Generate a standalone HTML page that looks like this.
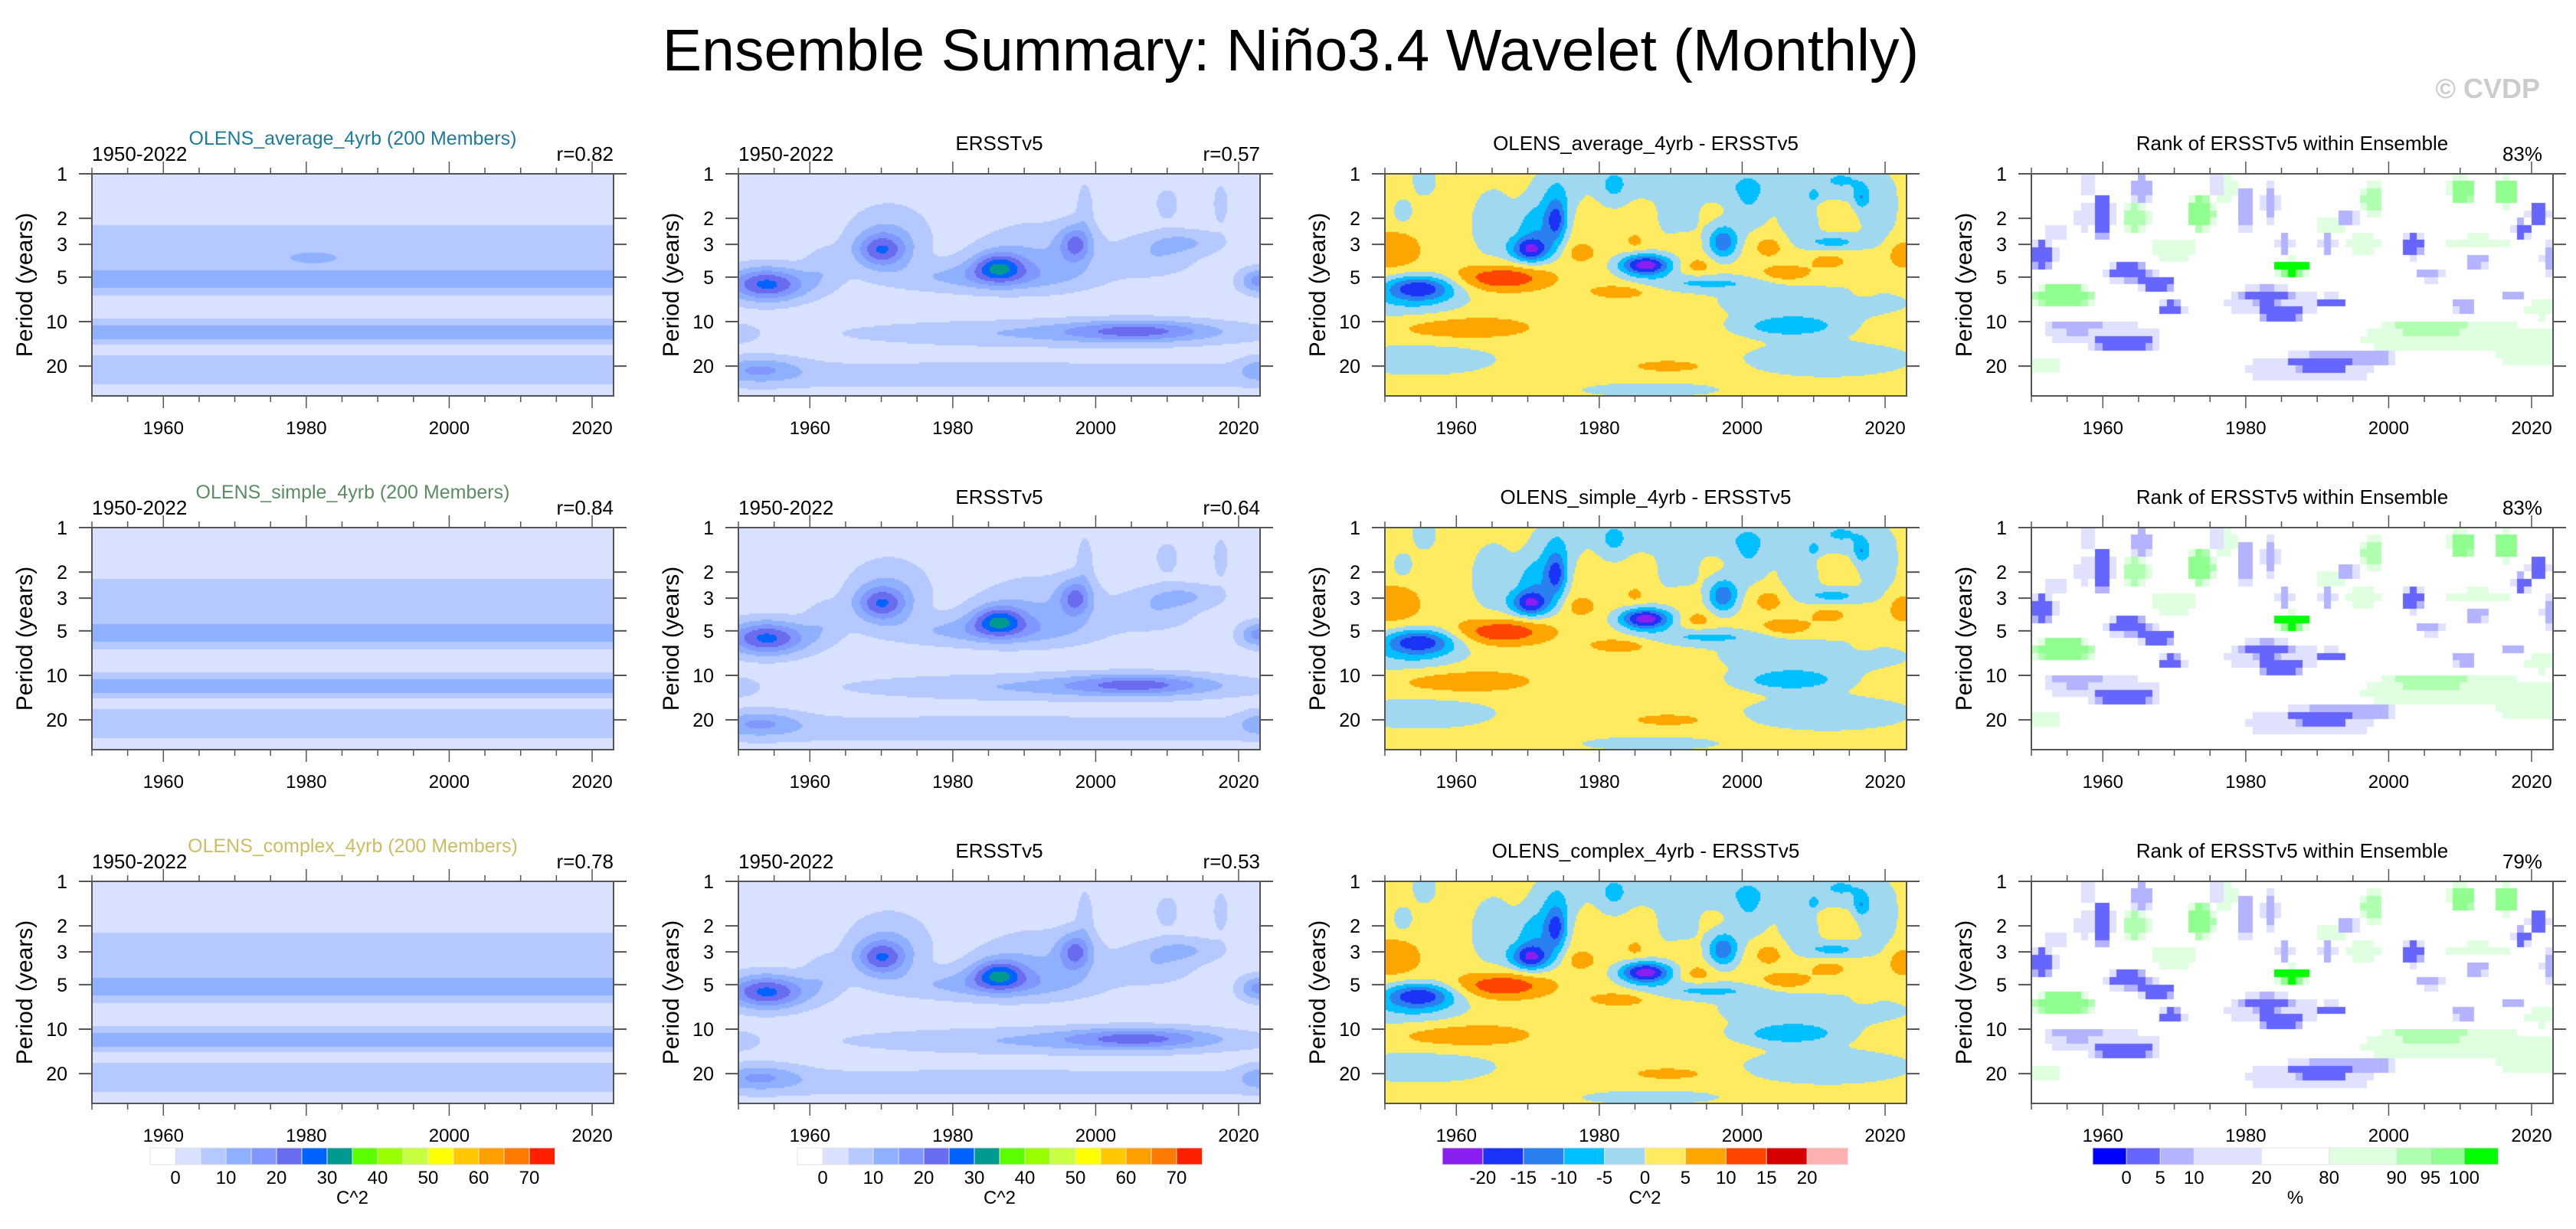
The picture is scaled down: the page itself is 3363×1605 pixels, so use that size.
<!DOCTYPE html>
<html><head><meta charset="utf-8">
<style>
html,body{margin:0;padding:0;background:#fff;}
#wrap{position:relative;width:3363px;height:1605px;overflow:hidden;background:#fff;font-family:"Liberation Sans",sans-serif;}
canvas{position:absolute;}
svg{position:absolute;left:0;top:0;}
</style></head>
<body>
<div id="wrap">
<svg id="ov" width="3363" height="1605"></svg>
</div>
<script>
// ---------------- data ----------------
const rowNames = ["OLENS_average_4yrb","OLENS_simple_4yrb","OLENS_complex_4yrb"];
const rowColors = ["#1b7b9c","#5b8c62","#cbbd63"];
const meanR = ["r=0.82","r=0.84","r=0.78"];
const obsR = ["r=0.57","r=0.64","r=0.53"];
const rankPct = ["83%","83%","79%"];
const xTickYears = [1960,1980,2000,2020];
const yTickPeriods = [1,2,3,5,10,20];
// ensemble-mean band edges (period, years) and levels between them
const meanEdges = [2.25,4.5,5.94,6.7,9.6,10.7,13.3,14.4,17.0,26.9];
const meanLevelsAvg = [1,2,3,2,1,2,3,2,1,2,1];
const meanLevelsSimple = [1,2,3,2,1,2,3,2,1,2,1];
const meanLevelsComplex = [1,2,3,2,1,2,3,2,1,2,1];
// observed wavelet power blobs: [year, period, amplitude, sigmaYear, sigmaLog10Period]
const obsBase = 2.5;
const obsBlobs = [
 [1954,5.6,24,4,0.08],[1970,3.3,18,2.5,0.08],[1971,2.6,7,4,0.15],
 [1986.4,4.24,20,2.5,0.07],[1985,5,10,9,0.07],[1997.2,3.0,16,1.6,0.09],
 [2012,2.9,8,4,0.06],[2006,11.5,14,7,0.05],[1995,12,8,20,0.06],
 [1992,3.5,7,6,0.15],[1985,23,5,60,0.07],[1953,21,10,4,0.06],[2023,21,8,2,0.06],
 [1998.5,1.65,5,0.8,0.12],[2010,1.6,5,1.2,0.08],[2017.5,1.6,5,0.8,0.1],
 [2023,5.3,15,2,0.06],[1962,4.3,5,2,0.1],[2008,3.8,6,4,0.08],[1950,12,5,2,0.05]
];
// difference (ensemble - obs) blobs
const diffBase = 2.5;
const diffBlobs = [
 [1955,18,-6,8,0.08],[2012,18,-6,9,0.09],[1987,29,-5,8,0.04],
 [1953,7.5,-6,6,0.08],[2010,7.5,-6,10,0.08],
 [1961,11,6,7,0.06],[1990,20,5,4,0.03],[1983,6.2,5.5,3.5,0.04],
 [1966.4,5.07,12,4.5,0.06],[1951,3.3,6,3,0.1],
 [1954.8,5.9,-20,3.5,0.06],[1970.4,3.27,-20,2,0.06],[1971,2.3,-10,2,0.12],[1974,2.1,-15,1,0.1],
 [1977.5,3.4,5,1.5,0.05],[1985,2.85,4,1,0.04],[1991.5,2.85,4,1,0.04],[1993.8,4.2,5,1.5,0.04],
 [1986.5,4.15,-26,2.5,0.05],[1995,5.5,-8,7,0.04],[1997.3,2.9,-16,1.5,0.08],
 [2003.7,3.08,5,1.8,0.06],[2006,4.77,7,2.5,0.04],[2012,3.9,4.5,2,0.04],[2017,6.35,4,1,0.02],[2022.5,3.5,6,1.5,0.07],
 [2013,2.9,-9,3,0.04],[2016.6,1.45,-8,0.7,0.05],[2010,1.4,-7,0.6,0.03],
 [2006.7,10.8,-11,5,0.05],
 [1955.5,1.1,-6,1.2,0.08],[1952.5,1.8,-6,1,0.06],[1965,2.2,-7,2,0.15],[1974,1.4,-6,2,0.15],
 [1982,1.2,-6,1.5,0.1],[1991,2.0,-6,2,0.1],[2001,1.6,-6,2,0.15],[2008,2.2,-6,2,0.1],
 [2019,1.8,-6,2,0.15],[2014,1.1,-6,3,0.08],[1995,1.15,-5,14,0.1]
];
// rank blobs
const rankBase = 50;
const rankBlobs = [
 [1951.5,3.6,-50,1.5,0.07],[1963.7,4.67,-46,2.5,0.05],[1967.6,5.5,-48,2,0.045],[1960,1.95,-46,1.2,0.12],
 [1956.5,10.8,-42,3,0.04],[1963,13.9,-47,3.5,0.05],[1960,12.3,-38,6,0.07],[1969.6,8.2,-46,1.5,0.04],
 [1983,6.7,-47,3,0.045],[1985,8.8,-47,2.5,0.05],[1991.9,7.4,-46,1.5,0.035],[1984,7.5,-36,6,0.08],
 [1990.7,19.2,-47,4,0.05],[1996,17.5,-45,4,0.045],[1989,21,-38,7,0.08],[1980,1.75,-45,1,0.12],
 [2003.4,3.08,-47,1,0.07],[1994.2,2.0,-44,1.2,0.05],[2005.8,4.8,-44,1.3,0.035],[2012.3,3.9,-44,1.3,0.035],
 [2010.6,7.9,-44,1.3,0.03],[2017.4,6.8,-44,1.3,0.03],[2021,1.9,-46,1.2,0.06],[2018.6,2.4,-46,0.9,0.05],
 [2022.8,3.8,-45,1,0.08],[1953.5,2.6,-40,1.5,0.04],[1965.5,1.28,-44,1,0.08],[1958,1.15,-40,0.8,0.06],
 [1976,1.2,-40,0.8,0.06],[1983.5,1.6,-44,0.8,0.1],[1954,31.6,-52,5,0.012],[2021,31.6,-45,3,0.012],
 [1985.5,3.0,-42,0.8,0.05],[1991.5,3.0,-42,0.8,0.05],[1957.5,2.0,-40,1,0.06],
 [1964.6,1.99,40,1.5,0.08],[1973.8,1.87,46,1.5,0.09],[1970,3.27,36,2.5,0.06],[1986.5,4.3,51,2,0.04],
 [1954.5,6.7,45,3.5,0.06],[2006,11,44,5,0.04],[2010,13,34,12,0.09],[1997.8,1.5,41,1.2,0.09],
 [2010.3,1.3,45,1.5,0.07],[2016.5,1.34,46,1.2,0.08],[1996.6,3.0,36,1.8,0.07],[2012.6,2.96,34,4,0.04],
 [2021.5,8.2,36,2,0.05],[1952,20,33,2,0.06],[1992,2.3,33,2,0.05],[2020,17,33,4,0.07],[1977,1.3,32,1.5,0.1]
];
const powColors = ['#ffffff','#d8e2ff','#b5c8ff','#8fb0ff','#8097ff','#6a6cf0','#0062ff','#009a90','#5cff00','#99ff00','#c8ff40','#ffff00','#ffc800','#ffa000','#ff7a00','#ff2000'];
const powLabels = ["0","10","20","30","40","50","60","70"];
const diffColors = ['#8a1ff0','#1a33f5','#2a80f0','#00bfff','#a0d8f0','#ffeb60','#ffa500','#ff4500','#d70000','#ffb0b0'];
const diffLabels = ["-20","-15","-10","-5","0","5","10","15","20"];
const rankColors = ['#0000ff','#6666ff','#b3b3ff','#e0e0ff','#ffffff','#e0ffe0','#b0ffb0','#90ff90','#00ff00'];
const rankThresh = [0,5,10,20,80,90,95,100];
const rankLabels = ["0","5","10","20","80","90","95","100"];
const rankUnits = [1,1,1,2,2,2,1,1,1];

// ---------------- geometry ----------------
const X0=1950, X1=2023, LP1=Math.log10(31.8);
const colLefts=[120,964,1808,2652], rowTops=[227,689,1151], W=681, H=290;
function xOf(yr){return (yr-X0)/(X1-X0)*W;}
function yOf(p){return Math.log10(p)/LP1*H;}
const NS="http://www.w3.org/2000/svg";
const ov=document.getElementById('ov');
const wrap=document.getElementById('wrap');
function el(tag,attrs,parent){const e=document.createElementNS(NS,tag);for(const k in attrs)e.setAttribute(k,attrs[k]);(parent||ov).appendChild(e);return e;}
function txt(s,x,y,size,anchor,fill,parent){const t=el('text',{x:x,y:y,'font-size':size,'text-anchor':anchor||'middle',fill:fill||'#000','font-family':'Liberation Sans, sans-serif'},parent);t.textContent=s;return t;}
function g2(b,yr,lp){const dy=(yr-b[0])/b[3],dl=(lp-Math.log10(b[1]))/b[4];return Math.exp(-0.5*(dy*dy+dl*dl));}
function field(base,blobs,yr,lp){let v=base;for(const b of blobs){v+=b[2]*g2(b,yr,lp);}return v;}
function fieldMax(base,blobs,yr,lp){let best=0;for(const b of blobs){const c=b[2]*Math.min(1,1.8*g2(b,yr,lp));if(Math.abs(c)>Math.abs(best))best=c;}return base+best;}
function powLevel(v){return Math.max(0,Math.min(15,Math.floor(v/5)+1));}
function diffLevel(v){return Math.max(0,Math.min(9,Math.floor((v+20)/5)+1));}
function rankLevel(v){let k=0;for(const t of rankThresh){if(v>=t)k++;}return k;}

function makeCanvas(col,row,name){
  const c=document.createElement('canvas');c.width=W;c.height=H;
  c.style.left=colLefts[col]+'px';c.style.top=rowTops[row]+'px';
  
  
  wrap.insertBefore(c,ov);return c.getContext('2d');
}
function drawSmooth(ctx,base,blobs,levelFn,colors){
  const s=2;
  for(let py=0;py<H;py+=s){const lp=(py+s/2)/H*LP1;
    for(let px=0;px<W;px+=s){const yr=X0+(px+s/2)/W*(X1-X0);
      ctx.fillStyle=colors[levelFn(field(base,blobs,yr,lp))];ctx.fillRect(px,py,s,s);}}
}
function drawMean(ctx,levels,blobYear,blobPeriod){
  const edges=[1].concat(meanEdges).concat([31.8]);
  for(let i=0;i<levels.length;i++){const y0=yOf(edges[i]),y1=yOf(edges[i+1]);
    ctx.fillStyle=powColors[levels[i]];ctx.fillRect(0,Math.floor(y0),W,Math.ceil(y1-y0)+1);}
  if(blobYear){ctx.fillStyle=powColors[3];ctx.beginPath();ctx.ellipse(xOf(blobYear),yOf(blobPeriod),30,7,0,0,Math.PI*2);ctx.fill();}
}
function drawRank(ctx){
  const dl=0.05;
  for(let lp=0;lp<LP1;lp+=dl){
    for(let yr=X0;yr<X1;yr+=1){
      ctx.fillStyle=rankColors[rankLevel(fieldMax(rankBase,rankBlobs,yr+0.5,lp+dl/2))];
      const x0=xOf(yr),y0=lp/LP1*H;
      ctx.fillRect(Math.floor(x0),Math.floor(y0),Math.ceil(xOf(yr+1)-x0)+1,Math.ceil(dl/LP1*H)+1);
    }}
}
function axes(col,row,showXLabels){
  const L=colLefts[col],T=rowTops[row];
  const g=el('g',{});
  
  
  for(let yr=1950;yr<=2020;yr+=5){const x=L+xOf(yr),major=xTickYears.includes(yr),len=major?16:8;
    el('line',{x1:x,y1:T,x2:x,y2:T-len,stroke:'#555','stroke-width':1.5},g);
    el('line',{x1:x,y1:T+H,x2:x,y2:T+H+len,stroke:'#555','stroke-width':1.5},g);}
  xTickYears.forEach(yr=>{if(showXLabels){const t=txt(String(yr),L+xOf(yr),T+H+50,24,'middle','#000',g);
    
    }});
  yTickPeriods.forEach(p=>{const y=T+yOf(p);
    el('line',{x1:L-17,y1:y,x2:L,y2:y,stroke:'#555','stroke-width':2},g);
    el('line',{x1:L+W,y1:y,x2:L+W+17,y2:y,stroke:'#555','stroke-width':2},g);
    const t=txt(String(p),L-32,y+9,25,'end','#000',g);
    
    });
  el('rect',{x:L,y:T,width:W,height:H,fill:'none',stroke:'#555','stroke-width':2},g);
  const yl=txt('Period (years)',0,0,30,'middle','#000',g);
  yl.setAttribute('transform','translate('+(L-78)+','+(T+H/2)+') rotate(-90)');
  
  
}
function label(s,x,y,size,anchor,fill,name){const t=txt(s,x,y,size,anchor,fill);
  
  return t;}

// ---------------- draw panels ----------------
const meanLevelSets=[meanLevelsAvg,meanLevelsSimple,meanLevelsComplex];
for(let r=0;r<3;r++){
  drawMean(makeCanvas(0,r,'ensemble-mean-wavelet-r'+(r+1)),meanLevelSets[r],r===0?1981:null,3.7);
  drawSmooth(makeCanvas(1,r,'obs-wavelet-r'+(r+1)),obsBase,obsBlobs,powLevel,powColors);
  drawSmooth(makeCanvas(2,r,'difference-wavelet-r'+(r+1)),diffBase,diffBlobs,diffLevel,diffColors);
  drawRank(makeCanvas(3,r,'rank-map-r'+(r+1)));
  for(let c=0;c<4;c++)axes(c,r,true);
  const T=rowTops[r];
  label(rowNames[r]+' (200 Members)',colLefts[0]+W/2,T-38,25,'middle',rowColors[r],'ensemble-title');
  label('1950-2022',colLefts[0],T-17,26,'start','#000','period-label');
  label(meanR[r],colLefts[0]+W,T-17,26,'end','#000','pattern-corr-label');
  label('ERSSTv5',colLefts[1]+W/2,T-31,26,'middle','#000','obs-title');
  label('1950-2022',colLefts[1],T-17,26,'start','#000','period-label');
  label(obsR[r],colLefts[1]+W,T-17,26,'end','#000','pattern-corr-label');
  label(rowNames[r]+' - ERSSTv5',colLefts[2]+W/2,T-31,26,'middle','#000','difference-title');
  label('Rank of ERSSTv5 within Ensemble',colLefts[3]+W/2,T-31,26,'middle','#000','rank-title');
  label(rankPct[r],colLefts[3]+W-14,T-17,26,'end','#000','rank-percent');
}
label('Ensemble Summary: Niño3.4 Wavelet (Monthly)',1685,92,77,'middle','#000','main-title');
const cv=label('© CVDP',3316,128,36,'end','#cccccc','watermark');cv.setAttribute('font-weight','bold');

// ---------------- colorbars ----------------
function colorbar(x0,x1,colors,units,labels,labelIdx,unit,name){
  const g=el('g',{});
  
  
  const tot=units.reduce((a,b)=>a+b,0),uw=(x1-x0)/tot;let x=x0;const bounds=[];
  colors.forEach((c,i)=>{const w=units[i]*uw;const rc=el('rect',{x:x,y:1499,width:w+0.5,height:22,fill:c,stroke:'#e6e6e6','stroke-width':1},g);
    
    
    x+=w;bounds.push(x);});
  labels.forEach((s,i)=>{const t=txt(s,bounds[labelIdx[i]],1546,24,'middle','#000',g);
    
    });
  const u=txt(unit,(x0+x1)/2,1572,24,'middle','#000',g);
  
  
}
const ones16=powColors.map(()=>1);
colorbar(196,724,powColors,ones16,powLabels,[0,2,4,6,8,10,12,14],'C^2','colorbar-ensemble-power');
colorbar(1041,1569,powColors,ones16,powLabels,[0,2,4,6,8,10,12,14],'C^2','colorbar-obs-power');
colorbar(1883,2412,diffColors,diffColors.map(()=>1),diffLabels,[0,1,2,3,4,5,6,7,8],'C^2','colorbar-difference');
colorbar(2732,3261,rankColors,rankUnits,rankLabels,[0,1,2,3,4,5,6,7],'%','colorbar-rank');
</script>
</body></html>
